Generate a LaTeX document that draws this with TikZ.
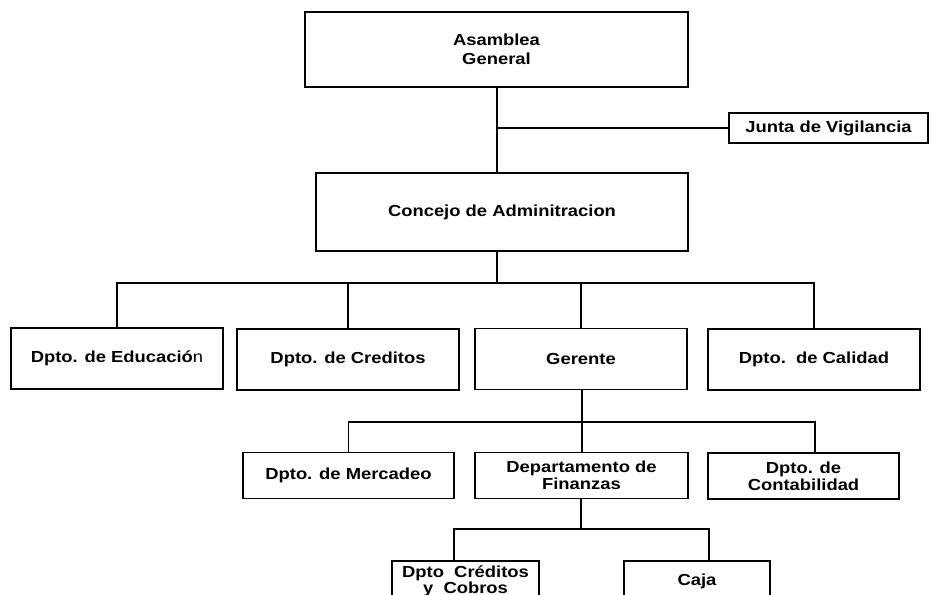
\documentclass[tikz,border=0pt]{standalone}
\usepackage{fontspec}
\setmainfont{Liberation Sans}
\newfontfamily\orgfont{Liberation Sans}[FakeStretch=1.15]
\usepackage{tikz}
\usetikzlibrary{positioning}
\tikzstyle{unit} = [rectangle, draw=black, line width=1.25pt, text centered, align=center, inner sep=2pt]
\tikzstyle{top} = [unit, minimum height=56.25pt]
\tikzstyle{council} = [unit, minimum height=58.5pt]
\tikzstyle{dept} = [unit, minimum height=45.75pt, minimum width=159pt]
\tikzstyle{sub} = [unit, minimum height=34.5pt]
\tikzstyle{office} = [unit, minimum height=30pt]
\tikzstyle{line} = [line width=1.25pt]

\begin{document}
\begin{tikzpicture}[x=0.75pt, y=-0.75pt, every node/.style={font=\orgfont\bfseries\fontsize{12}{12.75}\selectfont}]

\useasboundingbox (0,0) rectangle (932,595);
\clip (0,0) rectangle (932,595);

\node (asamblea) [top, minimum width=287.25pt, font=\orgfont\bfseries\fontsize{12}{14.25}\selectfont] at (496.5,49.5) {Asamblea\\General};
\node (junta) [unit, minimum width=149.25pt, minimum height=22.5pt] at (828.5,128) {Junta de Vigilancia};
\node (concejo) [council, minimum width=279pt] at (502,212) {Concejo de Adminitracion};

\node (educacion) [dept] at (117,358.5) {Dpto. de Educació{\mdseries n}};
\node (creditos) [dept, minimum width=166.5pt] at (348,359.5) {Dpto. de Creditos};
\node (gerente) [dept] at (581,359) {Gerente};
\node (calidad) [dept] at (814,359.5) {Dpto.~~de Calidad};

\node (mercadeo) [sub, minimum width=158.25pt] at (348.5,475.5) {Dpto. de Mercadeo};
\node (finanzas) [sub, minimum width=159.75pt] at (581.5,475.5) {Departamento de\\Finanzas};
\node (contabilidad) [sub, minimum width=143.25pt] at (803.5,476) {Dpto. de\\Contabilidad};

\node (cobros) [office, minimum width=110.25pt, font=\orgfont\bfseries\fontsize{12}{12}\selectfont] at (465.5,581) {Dpto~~Créditos\\y~~Cobros};
\node (caja) [office, minimum width=109.5pt] at (697,581) {Caja};

\coordinate (bus1) at (497,283);
\coordinate (bus2) at (582,422);
\coordinate (bus3) at (581,529);
\coordinate (conta-in) at (815,452);
\coordinate (cobros-in) at (454,561);
\coordinate (caja-in) at (709,561);

\draw [line] (asamblea.south -| bus1) -- (concejo.north -| bus1);
\draw [line] (junta.west -| bus1) -- (junta.west);
\draw [line] (concejo.south -| bus1) -- (bus1);
\draw [line] (educacion.north) |- (bus1) -| (calidad.north);
\draw [line] (creditos.north) -- (creditos.north |- bus1);
\draw [line] (gerente.north) -- (gerente.north |- bus1);

\draw [line] (gerente.south -| bus2) -- (bus2);
\draw [line] (mercadeo.north) |- (bus2) -| (conta-in);
\draw [line] (finanzas.north -| bus2) -- (bus2);

\draw [line] (finanzas.south -| bus3) -- (bus3);
\draw [line] (cobros-in) |- (bus3) -| (caja-in);

\end{tikzpicture}
\end{document}
